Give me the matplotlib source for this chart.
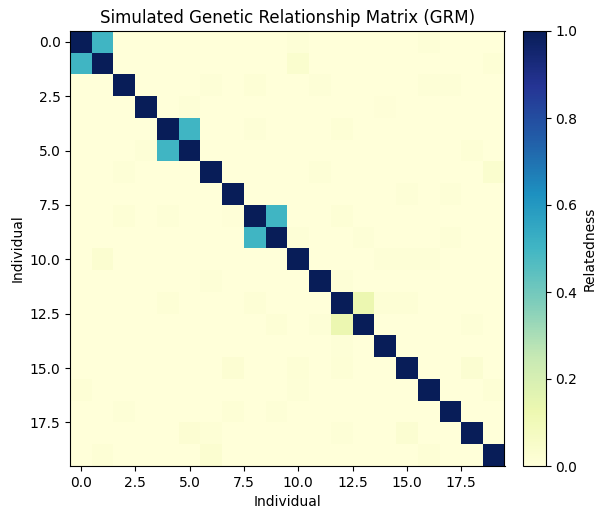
import numpy as np
import matplotlib
matplotlib.use("Agg")
import matplotlib.pyplot as plt

n_individuals = 20
related_pairs = [(0, 1), (4, 5), (8, 9), (12, 13)]
related_values = [0.5, 0.5, 0.5, 0.125]

# small off-diagonal values (row, col, value)
noise_cells = [
    (0, 10, 0.01), (0, 16, 0.01),
    (1, 10, 0.035), (1, 19, 0.015),
    (2, 6, 0.01), (2, 8, 0.015), (2, 11, 0.008), (2, 16, 0.008), (2, 17, 0.01),
    (3, 5, 0.01), (3, 14, 0.006),
    (4, 8, 0.01), (4, 12, 0.015),
    (5, 3, 0.008), (5, 18, 0.015),
    (6, 2, 0.008), (6, 11, 0.008), (6, 19, 0.035),
    (7, 15, 0.01), (7, 17, 0.01),
    (8, 2, 0.012), (8, 4, 0.01), (8, 7, 0.006), (8, 12, 0.015),
    (9, 10, 0.008), (9, 13, 0.01), (9, 17, 0.01),
    (10, 1, 0.03), (10, 14, 0.008), (10, 15, 0.01), (10, 16, 0.008),
    (11, 6, 0.008), (11, 12, 0.01),
    (12, 4, 0.015), (12, 8, 0.015), (12, 14, 0.012), (12, 15, 0.012),
    (13, 9, 0.012), (13, 11, 0.01), (13, 18, 0.01),
    (14, 12, 0.01),
    (15, 7, 0.02), (15, 10, 0.015), (15, 12, 0.015), (15, 18, 0.025),
    (16, 0, 0.012), (16, 10, 0.01), (16, 19, 0.012),
    (17, 2, 0.01), (17, 7, 0.015), (17, 9, 0.01),
    (18, 5, 0.02), (18, 6, 0.015), (18, 12, 0.008), (18, 15, 0.025),
    (19, 1, 0.015), (19, 6, 0.03), (19, 16, 0.012),
]

grm = np.eye(n_individuals)
for (i, j), v in zip(related_pairs, related_values):
    grm[i, j] = v
    grm[j, i] = v
for i, j, v in noise_cells:
    grm[i, j] = v

fig = plt.figure(figsize=(6.06, 5.19), dpi=100)
ax = fig.add_axes([70.3 / 606, (519 - 466) / 519, 434.2 / 606, 435 / 519])
cax = fig.add_axes([523.3 / 606, (519 - 466) / 519, 22.4 / 606, 435 / 519])

im = ax.imshow(grm, cmap="YlGnBu", vmin=0, vmax=1, interpolation="nearest", aspect="auto")
cb = fig.colorbar(im, cax=cax)
cb.set_label("Relatedness")
ax.set_title("Simulated Genetic Relationship Matrix (GRM)")
ax.set_xlabel("Individual")
ax.set_ylabel("Individual")

fig.savefig("out.png", dpi=100)
